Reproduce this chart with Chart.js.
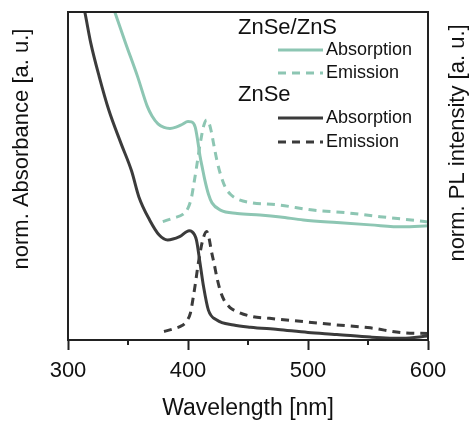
<!DOCTYPE html>
<html lang="en">
<head>
<meta charset="UTF-8">
<title>ZnSe and ZnSe/ZnS - absorption and emission</title>
<script src="https://cdn.jsdelivr.net/npm/chart.js"></script>
<style>
  body { margin: 0; background: #fff; }
  #wrap { width: 476px; height: 423px; }
</style>
</head>
<body>
<div id="wrap"><canvas id="chart"></canvas></div>
<script>
// x axis ticks
const xTicks = [300, 400, 500, 600];
const xMinorTicks = [350, 450, 550];

// ZnSe/ZnS absorption (normalised)
const shellAbsNm = [335, 339, 348, 358, 366, 370, 375, 380, 385, 390, 395, 400, 403, 406, 408, 410, 412, 414, 417, 420, 427, 441, 460, 477, 496, 524, 552, 579, 600];
const shellAbs = [1.043, 1.0, 0.905, 0.803, 0.713, 0.683, 0.659, 0.648, 0.645, 0.649, 0.657, 0.666, 0.665, 0.649, 0.610, 0.561, 0.524, 0.488, 0.445, 0.418, 0.396, 0.386, 0.381, 0.375, 0.366, 0.358, 0.351, 0.345, 0.348];

// ZnSe/ZnS emission (normalised)
const shellEmNm = [379, 388, 396, 400, 403, 405, 407, 409, 411, 413, 415.5, 417.5, 419.5, 421.5, 424, 427, 431, 436, 441, 454, 475, 504, 532, 560, 591, 600];
const shellEm = [0.361, 0.372, 0.384, 0.402, 0.436, 0.479, 0.524, 0.573, 0.616, 0.652, 0.671, 0.662, 0.634, 0.595, 0.549, 0.506, 0.466, 0.442, 0.430, 0.418, 0.412, 0.396, 0.388, 0.376, 0.364, 0.360];

// ZnSe absorption (normalised)
const coreAbsNm = [310, 314, 319, 326, 334, 344, 353, 359, 368, 376, 383, 393, 401, 403, 407, 410, 413, 417, 424, 438, 452, 475, 500, 524, 552, 579, 600];
const coreAbs = [1.064, 1.0, 0.905, 0.803, 0.701, 0.601, 0.515, 0.437, 0.366, 0.320, 0.305, 0.315, 0.333, 0.331, 0.305, 0.235, 0.162, 0.091, 0.061, 0.046, 0.039, 0.032, 0.023, 0.017, 0.009, 0.005, 0.012];

// ZnSe emission (normalised)
const coreEmNm = [380, 388, 395, 399, 402, 404, 406, 408.5, 411, 413, 415.5, 417.5, 419.5, 422, 424, 427, 430, 435, 440, 453, 468, 496, 524, 552, 579, 600];
const coreEm = [0.026, 0.034, 0.044, 0.058, 0.082, 0.122, 0.168, 0.232, 0.284, 0.314, 0.331, 0.311, 0.271, 0.229, 0.192, 0.149, 0.122, 0.099, 0.088, 0.072, 0.066, 0.056, 0.046, 0.037, 0.022, 0.020];

const legendGroups = ['ZnSe/ZnS', 'ZnSe'];

const teal = '#8dc6b3';
const dark = '#3b3b3b';
const ink = '#111';
const fontFamily = '"Liberation Sans", Arial, sans-serif';

function pts(xs, ys) {
  return xs.map((x, i) => ({ x: x, y: ys[i] }));
}

function line(label, group, xs, ys, color, dashed, axis) {
  return {
    label: label,
    group: group,
    data: pts(xs, ys),
    borderColor: color,
    borderWidth: 3,
    borderDash: dashed ? [8, 6] : [],
    pointRadius: 0,
    cubicInterpolationMode: 'monotone',
    yAxisID: axis
  };
}

const frame = {
  id: 'frame',
  afterDraw(chart) {
    const ctx = chart.ctx;
    const a = chart.chartArea;
    const x = chart.scales.x;
    ctx.save();
    ctx.strokeStyle = '#222';
    ctx.lineWidth = 2;
    ctx.strokeRect(a.left, a.top, a.right - a.left, a.bottom - a.top);
    // minor ticks
    xMinorTicks.forEach(v => {
      const px = Math.round(x.getPixelForValue(v));
      ctx.beginPath();
      ctx.moveTo(px, a.bottom);
      ctx.lineTo(px, a.bottom + 5);
      ctx.stroke();
    });
    // y titles
    ctx.fillStyle = ink;
    ctx.font = '22px ' + fontFamily;
    ctx.textAlign = 'center';
    ctx.textBaseline = 'middle';
    [['norm. Absorbance [a. u.]', 22, 149], ['norm. PL intensity [a. u.]', 458, 143]].forEach(t => {
      ctx.save();
      ctx.translate(t[1], t[2]);
      ctx.rotate(-Math.PI / 2);
      ctx.fillText(t[0], 0, 0);
      ctx.restore();
    });
    ctx.restore();
  }
};

const groupLegend = {
  id: 'groupLegend',
  afterDatasetsDraw(chart) {
    const ctx = chart.ctx;
    const rows = [28, 50, 73, 95, 118, 142];
    let r = 0;
    ctx.save();
    ctx.textBaseline = 'middle';
    ctx.textAlign = 'left';
    legendGroups.forEach(g => {
      ctx.fillStyle = ink;
      ctx.font = '22px ' + fontFamily;
      ctx.fillText(g, 238, rows[r++]);
      chart.data.datasets.filter(d => d.group === g).forEach(d => {
        const y = rows[r++];
        ctx.strokeStyle = d.borderColor;
        ctx.lineWidth = 3;
        ctx.setLineDash(d.borderDash);
        ctx.beginPath();
        ctx.moveTo(278, y);
        ctx.lineTo(323, y);
        ctx.stroke();
        ctx.setLineDash([]);
        ctx.fillStyle = ink;
        ctx.font = '18px ' + fontFamily;
        ctx.fillText(d.label, 326, y);
      });
    });
    ctx.restore();
  }
};

new Chart(document.getElementById('chart'), {
  type: 'line',
  data: {
    datasets: [
      line('Absorption', 'ZnSe/ZnS', shellAbsNm, shellAbs, teal, false, 'yA'),
      line('Emission', 'ZnSe/ZnS', shellEmNm, shellEm, teal, true, 'yP'),
      line('Absorption', 'ZnSe', coreAbsNm, coreAbs, dark, false, 'yA'),
      line('Emission', 'ZnSe', coreEmNm, coreEm, dark, true, 'yP')
    ]
  },
  options: {
    responsive: true,
    maintainAspectRatio: false,
    animation: false,
    devicePixelRatio: 1,
    layout: { padding: { top: 12, left: 0, right: 0, bottom: 0 } },
    plugins: { legend: { display: false }, tooltip: { enabled: false } },
    scales: {
      x: {
        type: 'linear',
        min: 300,
        max: 600,
        afterBuildTicks: s => { s.ticks = xTicks.map(v => ({ value: v })); },
        afterFit: s => { s.height = 83; },
        ticks: { color: ink, font: { size: 22, family: fontFamily }, padding: 8, maxRotation: 0 },
        grid: { drawOnChartArea: false, tickLength: 10, tickWidth: 2, tickColor: '#222' },
        border: { color: '#222', width: 2 },
        title: {
          display: true,
          text: 'Wavelength [nm]',
          color: ink,
          font: { size: 23, family: fontFamily },
          padding: { top: 0, bottom: 1 }
        }
      },
      yA: {
        position: 'left',
        min: 0,
        max: 1,
        afterFit: s => { s.width = 68; },
        ticks: { display: false },
        grid: { display: false },
        border: { color: '#222', width: 2 }
      },
      yP: {
        position: 'right',
        min: 0,
        max: 1,
        afterFit: s => { s.width = 48; },
        ticks: { display: false },
        grid: { display: false },
        border: { color: '#222', width: 2 }
      }
    }
  },
  plugins: [frame, groupLegend]
});
</script>
</body>
</html>
